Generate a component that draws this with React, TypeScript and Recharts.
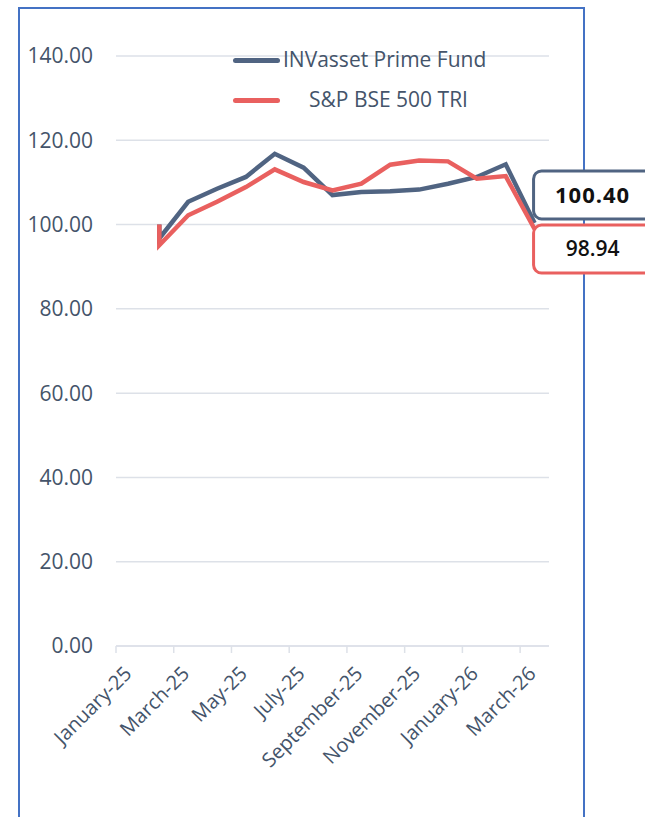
import React from 'react';
import { LineChart, Line, XAxis, YAxis, CartesianGrid, Legend } from 'recharts';

// months since January-25 (point dates)
const monthPos = [1.5, 1.5, 2.5, 3.5, 4.5, 5.5, 6.5, 7.5, 8.5, 9.5, 10.5, 11.5, 12.5, 13.5, 14.5];
const fundValues = [100, 96.7, 105.4, 108.5, 111.3, 116.8, 113.5, 107.0, 107.7, 107.9, 108.3, 109.7, 111.3, 114.3, 100.4];
const indexValues = [100, 95.1, 102.2, 105.4, 108.9, 113.1, 110.1, 108.1, 109.7, 114.2, 115.2, 115.0, 110.9, 111.5, 98.94];

const tickPos = [0, 2, 4, 6, 8, 10, 12, 14];
const tickLabels = ['January-25', 'March-25', 'May-25', 'July-25', 'September-25', 'November-25', 'January-26', 'March-26'];
const yTicks = [0, 20, 40, 60, 80, 100, 120, 140];

const FUND = 'INVasset Prime Fund';
const INDEX = 'S&P BSE 500 TRI';
const BLUE = '#506482';
const RED = '#E9605F';
const TEXT = '#44546A';
const FONT = '"Open Sans", sans-serif';

const data = monthPos.map((m, i) => ({ m, fund: fundValues[i], index: indexValues[i] }));

const XTick = ({ x, y, payload }: any) => {
  const i = tickPos.indexOf(payload.value);
  return (
    <g transform={`translate(${x + 12},${y + 15})`}>
      <text x={0} y={0} dy="0.35em" textAnchor="end" transform="rotate(-45)" fill={TEXT} fontSize={20} fontFamily={FONT}>
        {tickLabels[i]}
      </text>
    </g>
  );
};

const makeCallout = (color: string, above: boolean, size: number, weight: number, spacing: number) => (props: any) => {
  const { x, y, index, value } = props;
  if (index !== data.length - 1) return <g key={`c-${index}`} />;
  const top = above ? y - 52 : y - 4;
  return (
    <g key={`c-${index}`}>
      <rect x={x - 1} y={top} width={130} height={48} rx={8} ry={8} fill="#fff" stroke={color} strokeWidth={3} />
      <text x={x + 58} y={top + 24} dy="0.35em" textAnchor="middle" fontSize={size} fontWeight={weight} letterSpacing={spacing} fontFamily={FONT} fill="#111">
        {Number(value).toFixed(2)}
      </text>
    </g>
  );
};

// zero-height wrapper so the legend does not take space from the plot
const LegendBox = () => (
  <div style={{ fontFamily: FONT, fontSize: 21, color: TEXT, position: 'relative', width: 300, height: 0 }}>
    <div style={{ position: 'absolute', left: 0, top: 13, width: 47, height: 5, borderRadius: 3, background: BLUE }} />
    <div style={{ position: 'absolute', left: 50, top: 0, lineHeight: '29px', whiteSpace: 'nowrap' }}>{FUND}</div>
    <div style={{ position: 'absolute', left: 0, top: 53, width: 47, height: 5, borderRadius: 3, background: RED }} />
    <div style={{ position: 'absolute', left: 76, top: 40, lineHeight: '29px', whiteSpace: 'nowrap' }}>{INDEX}</div>
  </div>
);

export default function App() {
  return (
    <div style={{ position: 'absolute', left: 0, top: 0, width: 645, height: 817, overflow: 'hidden', background: '#fff' }}>
      <div style={{ position: 'absolute', left: 18, top: 7, width: 563, height: 840, border: '2px solid #4472C4' }} />
      <div style={{ position: 'absolute', left: 0, top: 0 }}>
        <LineChart width={645} height={817} data={data} margin={{ top: 56, right: 96, left: 0, bottom: 0 }} style={{ overflow: 'visible' }}>
          <CartesianGrid horizontal vertical={false} stroke="#DDE1E8" strokeWidth={1.5} />
          <XAxis
            dataKey="m"
            type="number"
            domain={[0, 15]}
            ticks={tickPos}
            interval={0}
            height={171}
            axisLine={{ stroke: '#DDE1E8', strokeWidth: 1.5 }}
            tickLine={{ stroke: '#DDE1E8', strokeWidth: 1.5 }}
            tickSize={7}
            tick={<XTick />}
          />
          <YAxis
            domain={[0, 140]}
            ticks={yTicks}
            width={116}
            axisLine={false}
            tickLine={false}
            tickSize={0}
            tickMargin={23}
            tickFormatter={(v: number) => v.toFixed(2)}
            tick={{ fill: TEXT, fontSize: 21, fontFamily: FONT }}
          />
          <Legend content={<LegendBox />} wrapperStyle={{ position: 'absolute', left: 233, top: 45, width: 300, height: 0 }} />
          <Line type="linear" dataKey="fund" name={FUND} stroke={BLUE} strokeWidth={4.5} dot={false} isAnimationActive={false} label={makeCallout(BLUE, true, 22, 700, 1)} />
          <Line type="linear" dataKey="index" name={INDEX} stroke={RED} strokeWidth={4.5} dot={false} isAnimationActive={false} label={makeCallout(RED, false, 21, 600, 0)} />
        </LineChart>
      </div>
    </div>
  );
}
